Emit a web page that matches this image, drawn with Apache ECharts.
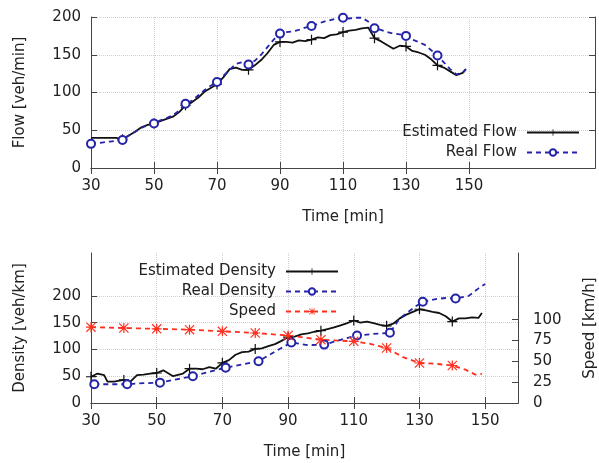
<!DOCTYPE html>
<html>
<head>
<meta charset="utf-8">
<script src="https://cdn.jsdelivr.net/npm/echarts@6/dist/echarts.min.js"></script>
<style>
  html, body { margin: 0; padding: 0; background: #fff; }
  #chart { width: 599px; height: 463px; }
</style>
</head>
<body>
<div id="chart"></div>
<script>
// ---- top panel: flow ----
const flowTimes = [30, 32, 34, 36, 38, 40, 42, 44, 46, 48, 50, 52, 54, 56, 58, 60, 62, 64, 66, 68,
  70, 72, 74, 76, 78, 80, 82, 84, 86, 88, 90, 92, 94, 96, 98, 100, 102, 104, 106, 108,
  110, 112, 114, 116, 118, 120, 122, 124, 126, 128, 130, 132, 134, 136, 138, 140, 142, 144, 146, 148, 149];
const estFlow = [40, 40, 40, 40, 40, 38, 43, 48, 54, 57, 59, 62, 65, 68, 74, 83, 87, 93, 101, 106,
  111, 120, 131, 133, 130, 130, 136, 143, 152, 163, 167, 167, 166, 169, 168, 170, 173, 172, 176, 177,
  180, 182, 183, 185, 186, 172, 168, 163, 158, 162, 161, 155, 153, 150, 144, 136, 133, 128, 123, 126, 131];
const realFlow = [32, 33, 34, 35, 36, 37, 43, 48, 53, 57, 59, 63, 66, 70, 76, 85, 89, 96, 103, 109,
  114, 122, 130, 138, 140, 137, 142, 150, 160, 170, 178, 180, 181, 183, 186, 188, 191, 194, 196, 198,
  199, 198, 199, 199, 194, 185, 183, 180, 178, 177, 175, 170, 167, 163, 156, 149, 140, 131, 124, 126, 131];
const estFlowMarks = [40, 50, 60, 70, 80, 90, 100, 110, 120, 130, 140];
const realFlowMarks = [30, 40, 50, 60, 70, 80, 90, 100, 110, 120, 130, 140];

// ---- bottom panel: density & speed ----
const estDensTimes = [30, 32, 34, 35, 37, 40, 42, 44, 46, 48, 50, 52, 55, 58, 60, 62, 64, 66, 68,
  70, 72, 74, 76, 78, 80, 82, 84, 86, 88, 90, 92, 94, 96, 98, 100, 102, 104, 106, 108,
  110, 112, 114, 116, 118, 120, 122, 124, 126, 128, 130, 132, 134, 136, 138, 140, 142, 144, 146, 148, 149];
const estDens = [49, 55, 52, 40, 40, 43, 40, 52, 53, 55, 56, 61, 50, 55, 64, 64, 63, 67, 64,
  75, 80, 90, 95, 96, 101, 102, 106, 110, 116, 123, 124, 128, 130, 133, 135, 138, 141, 145, 149,
  154, 150, 152, 149, 146, 144, 148, 158, 165, 170, 175, 173, 170, 168, 162, 152, 158, 158, 160, 159, 168];
const realDensTimes = [31, 36, 41, 46, 51, 56, 61, 66, 71, 76, 81, 86, 91, 96, 101, 106, 111, 116, 121,
  124, 129, 131, 135, 138, 141, 145, 148, 150];
const realDens = [35, 35, 35, 37, 38, 44, 50, 58, 66, 72, 78, 96, 113, 108, 109, 118, 126, 129, 131,
  158, 181, 189, 194, 196, 195, 200, 214, 222];
const speedTimes = [30, 40, 50, 60, 70, 80, 90, 100, 110, 115, 120, 125, 130, 135, 140, 144, 147, 149];
const speed = [91, 90, 89, 88, 86, 84, 81, 76, 74, 71, 66, 55, 48, 47, 45, 40, 34, 35];
const tenMinMarks = [30, 40, 50, 60, 70, 80, 90, 100, 110, 120, 130, 140];
const realDensMarks = [31, 41, 51, 61, 71, 81, 91, 101, 111, 121, 131, 141];

const xTicks = [30, 50, 70, 90, 110, 130, 150];
const densTicks = [0, 50, 100, 150, 200];
const speedTicks = [0, 25, 50, 75, 100];

const FONT = "DejaVu Sans";
const FS = 15;
const TXT = "#222";
const AX = "#444";
const BLACK = "#111";
const BLUE = "#2424a8";
const RED = "#ff2f1f";

const plusPath = "path://M4.4,0h1.2v4.4h4.4v1.2h-4.4v4.4h-1.2v-4.4h-4.4v-1.2h4.4z";
const starPath = "path://M0,4.4h10v1.2h-10z M4.4,0h1.2v10h-1.2z M0,0.8L0.8,0L10,9.2L9.2,10z M10,0.8L0.8,10L0,9.2L9.2,0z";

function pts(times, vals, marks) {
  return times.map((t, i) => {
    const item = { value: [t, vals[i]] };
    if (marks.indexOf(t) < 0) item.symbol = "none";
    return item;
  });
}

function lineSeries(name, times, vals, marks, color, dashed, symbol, size, xi, yi) {
  return {
    name: name,
    type: "line",
    xAxisIndex: xi,
    yAxisIndex: yi,
    data: pts(times, vals, marks),
    symbol: symbol,
    symbolSize: size,
    showSymbol: true,
    showAllSymbol: true,
    animation: false,
    itemStyle: { color: color, borderColor: color, borderWidth: symbol === "emptyCircle" ? 1.5 : 0 },
    lineStyle: { color: color, width: 1.8, type: dashed ? [5, 4] : "solid" },
    z: 3
  };
}

function xAxisCfg(grid, max, pos, labels) {
  return {
    type: "value", gridIndex: grid, min: 30, max: max, interval: 20, position: pos,
    name: labels ? "Time [min]" : "", nameLocation: "middle", nameGap: 42,
    nameTextStyle: { fontFamily: FONT, fontSize: FS, color: TXT },
    axisLine: { show: true, lineStyle: { color: AX, width: 1 } },
    axisTick: { show: true, inside: true, length: 6, customValues: xTicks, lineStyle: { color: AX } },
    axisLabel: { show: labels, customValues: xTicks, margin: 11, fontFamily: FONT, fontSize: FS, color: TXT },
    splitLine: { show: labels, lineStyle: { color: "#d0d0d0", type: "dotted" } }
  };
}

function legendCfg(names, right, top) {
  return {
    data: names,
    orient: "vertical", align: "right", right: right, top: top,
    padding: 0, itemWidth: 52, itemHeight: 8, itemGap: 5,
    textStyle: { fontFamily: FONT, fontSize: FS, color: TXT, padding: [0, 5, 0, 0] },
    selectedMode: false
  };
}

const chart = echarts.init(document.getElementById("chart"), null, { renderer: "canvas" });

const option = {
  backgroundColor: "#fff",
  animation: false,
  grid: [
    { left: 91, right: 4, top: 17, height: 151, containLabel: false, outerBoundsMode: "none" },
    { left: 91, right: 81, top: 253, height: 150, containLabel: false, outerBoundsMode: "none" }
  ],
  legend: [
    legendCfg(["Estimated Flow", "Real Flow"], 19, 125),
    legendCfg(["Estimated Density", "Real Density", "Speed"], 260, 264)
  ],
  xAxis: [
    xAxisCfg(0, 190, "bottom", true),
    xAxisCfg(0, 190, "top", false),
    xAxisCfg(1, 160, "bottom", true),
    xAxisCfg(1, 160, "top", false)
  ],
  yAxis: [
    {
      type: "value", gridIndex: 0, min: 0, max: 200, interval: 50, position: "left",
      name: "Flow [veh/min]", nameLocation: "middle", nameGap: 63,
      nameTextStyle: { fontFamily: FONT, fontSize: FS, color: TXT },
      axisLine: { show: true, lineStyle: { color: AX } },
      axisTick: { show: true, inside: true, length: 6, lineStyle: { color: AX } },
      axisLabel: { margin: 10, fontFamily: FONT, fontSize: FS, color: TXT },
      splitLine: { show: true, lineStyle: { color: "#d0d0d0", type: "dotted" } }
    },
    {
      type: "value", gridIndex: 0, min: 0, max: 200, interval: 50, position: "right",
      axisLine: { show: true, lineStyle: { color: AX } },
      axisTick: { show: true, inside: true, length: 6, lineStyle: { color: AX } },
      axisLabel: { show: false },
      splitLine: { show: false }
    },
    {
      type: "value", gridIndex: 1, min: 0, max: 280, position: "left",
      name: "Density [veh/km]", nameLocation: "middle", nameGap: 63,
      nameTextStyle: { fontFamily: FONT, fontSize: FS, color: TXT },
      axisLine: { show: true, lineStyle: { color: AX } },
      axisTick: { show: true, inside: true, length: 6, customValues: densTicks, lineStyle: { color: AX } },
      axisLabel: { customValues: densTicks, margin: 10, fontFamily: FONT, fontSize: FS, color: TXT },
      splitLine: { show: true, lineStyle: { color: "#d0d0d0", type: "dotted" } }
    },
    {
      type: "value", gridIndex: 1, min: 0, max: 180, position: "right",
      name: "Speed [km/h]", nameLocation: "middle", nameGap: 65, nameRotate: 90,
      nameTextStyle: { fontFamily: FONT, fontSize: FS, color: TXT },
      axisLine: { show: true, lineStyle: { color: AX } },
      axisTick: { show: true, inside: true, length: 6, customValues: speedTicks, lineStyle: { color: AX } },
      axisLabel: { customValues: speedTicks, margin: 15, fontFamily: FONT, fontSize: FS, color: TXT },
      splitLine: { show: false }
    }
  ],
  series: [
    lineSeries("Estimated Flow", flowTimes, estFlow, estFlowMarks, BLACK, false, plusPath, 10, 0, 0),
    lineSeries("Real Flow", flowTimes, realFlow, realFlowMarks, BLUE, true, "emptyCircle", 8, 0, 0),
    lineSeries("Estimated Density", estDensTimes, estDens, tenMinMarks, BLACK, false, plusPath, 10, 2, 2),
    lineSeries("Real Density", realDensTimes, realDens, realDensMarks, BLUE, true, "emptyCircle", 8, 2, 2),
    lineSeries("Speed", speedTimes, speed, tenMinMarks, RED, true, starPath, 10, 2, 3)
  ]
};

chart.setOption(option);
window.addEventListener("resize", () => {
  chart.resize();
});
</script>
</body>
</html>
